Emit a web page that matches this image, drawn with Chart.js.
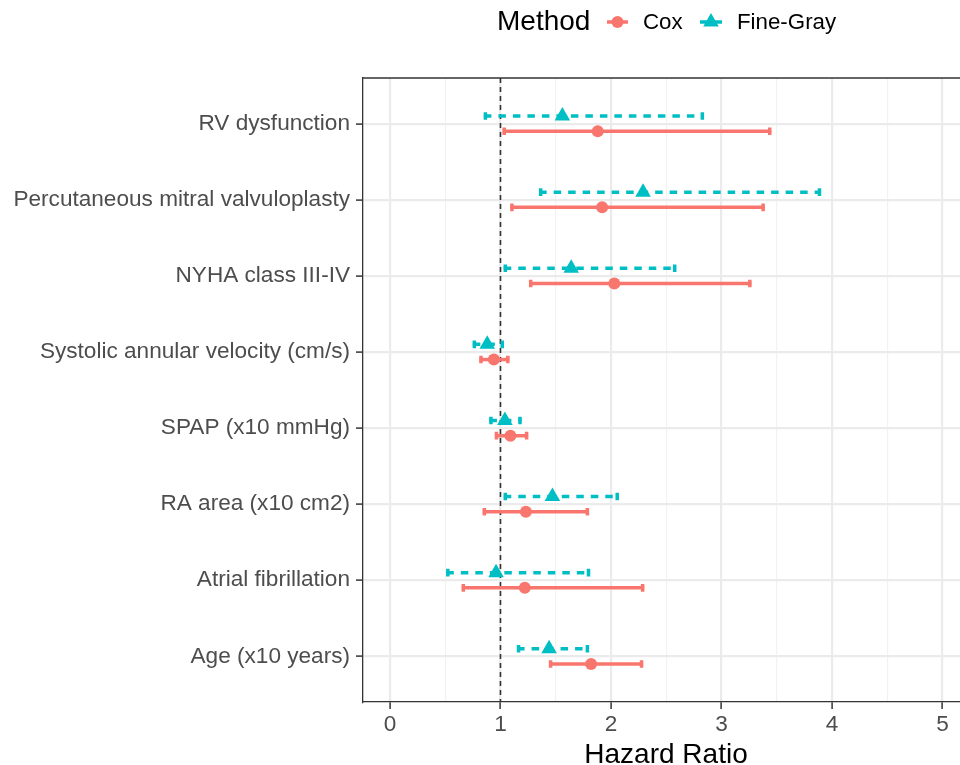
<!DOCTYPE html>
<html><head><meta charset="utf-8">
<script src="https://cdn.jsdelivr.net/npm/chart.js@4.4.0/dist/chart.umd.min.js"></script>
<style>html,body{margin:0;padding:0;background:#fff}#wrap{width:960px;height:765px;position:relative}</style>
</head><body><div id="wrap"><canvas id="c" width="960" height="765"></canvas></div>
<script>
// Categories, top to bottom
const categories = [
  'RV dysfunction',
  'Percutaneous mitral valvuloplasty',
  'NYHA class III-IV',
  'Systolic annular velocity (cm/s)',
  'SPAP (x10 mmHg)',
  'RA area (x10 cm2)',
  'Atrial fibrillation',
  'Age (x10 years)'
];
const coxHR    = [1.88, 1.92, 2.03, 0.94, 1.09, 1.23, 1.22, 1.82];
const coxLower = [1.02, 1.09, 1.26, 0.81, 0.95, 0.84, 0.65, 1.44];
const coxUpper = [3.45, 3.39, 3.27, 1.08, 1.25, 1.80, 2.30, 2.29];
const fgHR     = [1.56, 2.29, 1.64, 0.88, 1.04, 1.47, 0.96, 1.44];
const fgLower  = [0.85, 1.35, 1.03, 0.75, 0.90, 1.03, 0.51, 1.15];
const fgUpper  = [2.84, 3.90, 2.59, 1.03, 1.19, 2.07, 1.81, 1.80];
const xTickValues = [0, 0.5, 1, 1.5, 2, 2.5, 3, 3.5, 4, 4.5, 5];
const refValue = 1;
const seriesNames = ['Cox', 'Fine-Gray'];
const legendTitle = 'Method';
const xTitle = 'Hazard Ratio';

const COX = '#F8766D', FG = '#00BFC4';
const DODGE = 0.1;
const X_MIN = -0.244, X_MAX = 5.158;
const FONT = '"Liberation Sans", Arial, sans-serif';

const coxPts = categories.map((c, i) => ({x: coxHR[i], y: i + DODGE}));
const fgPts  = categories.map((c, i) => ({x: fgHR[i],  y: i - DODGE}));

const errPlugin = {
  id: 'errbars',
  beforeDatasetsDraw(chart) {
    const ctx = chart.ctx, xs = chart.scales.x, ys = chart.scales.y, a = chart.chartArea;
    ctx.save();
    ctx.strokeStyle = '#333333'; ctx.lineWidth = 1.6; ctx.setLineDash([5, 4]);
    const rx = xs.getPixelForValue(refValue);
    ctx.beginPath(); ctx.moveTo(rx, a.top); ctx.lineTo(rx, a.bottom); ctx.stroke();
    const drawBar = (lo, hi, yv, color, dash) => {
      const x1 = xs.getPixelForValue(lo), x2 = xs.getPixelForValue(hi), y = ys.getPixelForValue(yv);
      ctx.strokeStyle = color; ctx.lineWidth = 3.5; ctx.lineCap = 'butt';
      ctx.setLineDash(dash);
      ctx.beginPath(); ctx.moveTo(x1, y); ctx.lineTo(x2, y); ctx.stroke();
      ctx.setLineDash([]);
      ctx.beginPath();
      ctx.moveTo(x1 + 1.5, y - 3.8); ctx.lineTo(x1 + 1.5, y + 3.8);
      ctx.moveTo(x2 - 1.5, y - 3.8); ctx.lineTo(x2 - 1.5, y + 3.8);
      ctx.stroke();
    };
    categories.forEach((c, i) => {
      drawBar(fgLower[i], fgUpper[i], i - DODGE, FG, [7.5, 7]);
      drawBar(coxLower[i], coxUpper[i], i + DODGE, COX, []);
    });
    ctx.restore();
  },
  afterDraw(chart) {
    const ctx = chart.ctx, a = chart.chartArea;
    ctx.save();
    ctx.strokeStyle = '#333333'; ctx.lineWidth = 1.3;
    ctx.beginPath(); ctx.moveTo(a.left, a.top); ctx.lineTo(a.right, a.top); ctx.stroke();
    ctx.fillStyle = '#000'; ctx.font = '28px ' + FONT;
    ctx.textAlign = 'center'; ctx.textBaseline = 'alphabetic';
    ctx.fillText(xTitle, 666, 763);
    const ly = 22;
    ctx.textAlign = 'left'; ctx.textBaseline = 'middle';
    ctx.fillText(legendTitle, 497, ly);
    ctx.font = '22.3px ' + FONT;
    ctx.strokeStyle = COX; ctx.lineWidth = 3.5;
    ctx.beginPath(); ctx.moveTo(607, ly); ctx.lineTo(628, ly); ctx.stroke();
    ctx.fillStyle = COX; ctx.beginPath(); ctx.arc(617.5, ly, 6, 0, Math.PI * 2); ctx.fill();
    ctx.fillStyle = '#000'; ctx.fillText(seriesNames[0], 643, ly + 1);
    ctx.strokeStyle = FG;
    ctx.beginPath(); ctx.moveTo(700, ly); ctx.lineTo(722, ly); ctx.stroke();
    ctx.fillStyle = FG; ctx.beginPath();
    const r = 9, cx = 711, cy = ly;
    ctx.moveTo(cx, cy - r);
    ctx.lineTo(cx + r * Math.sin(2 * Math.PI / 3), cy - r * Math.cos(2 * Math.PI / 3));
    ctx.lineTo(cx + r * Math.sin(4 * Math.PI / 3), cy - r * Math.cos(4 * Math.PI / 3));
    ctx.closePath(); ctx.fill();
    ctx.fillStyle = '#000'; ctx.fillText(seriesNames[1], 737, ly + 1);
    ctx.restore();
  }
};

const isMajor = c => c.tick && Number.isInteger(c.tick.value);

new Chart(document.getElementById('c'), {
  type: 'scatter',
  data: {
    datasets: [
      {label: seriesNames[0], data: coxPts, pointStyle: 'circle', pointRadius: 6, backgroundColor: COX, borderWidth: 0, pointHoverRadius: 6},
      {label: seriesNames[1], data: fgPts, pointStyle: 'triangle', pointRadius: 9, backgroundColor: FG, borderWidth: 0, pointHoverRadius: 9}
    ]
  },
  options: {
    responsive: false, animation: false,
    layout: {autoPadding: false, padding: {top: 78, right: 0, left: 0, bottom: 0}},
    plugins: {legend: {display: false}, tooltip: {enabled: false}},
    scales: {
      x: {
        type: 'linear', min: X_MIN, max: X_MAX,
        afterBuildTicks: s => { s.ticks = xTickValues.map(v => ({value: v})); },
        afterFit: s => { s.height = 63; s.paddingLeft = 0; s.paddingRight = 0; },
        ticks: {
          color: '#4D4D4D', font: {size: 22.6, family: FONT}, padding: 2, maxRotation: 0, autoSkip: false,
          callback: v => Number.isInteger(v) ? String(v) : ''
        },
        grid: {
          color: c => isMajor(c) ? '#EBEBEB' : '#F2F2F2',
          lineWidth: c => isMajor(c) ? 2.2 : 1.2,
          tickColor: c => isMajor(c) ? '#333333' : 'rgba(0,0,0,0)',
          tickLength: 7, tickWidth: 1.5
        },
        border: {display: true, color: '#333333', width: 1.3}
      },
      y: {
        type: 'linear', reverse: true, min: -0.6, max: 7.6,
        afterBuildTicks: s => { s.ticks = categories.map((c, i) => ({value: i})); },
        afterFit: s => { s.width = 363; s.paddingTop = 0; s.paddingBottom = 0; },
        ticks: {
          color: '#4D4D4D', font: {size: 22.6, family: FONT}, padding: 6, autoSkip: false,
          callback: v => categories[v] !== undefined ? categories[v] : ''
        },
        grid: {color: '#EBEBEB', lineWidth: 2.2, tickColor: '#333333', tickLength: 7, tickWidth: 1.5},
        border: {display: true, color: '#333333', width: 1.3}
      }
    }
  },
  plugins: [errPlugin]
});
</script></body></html>
